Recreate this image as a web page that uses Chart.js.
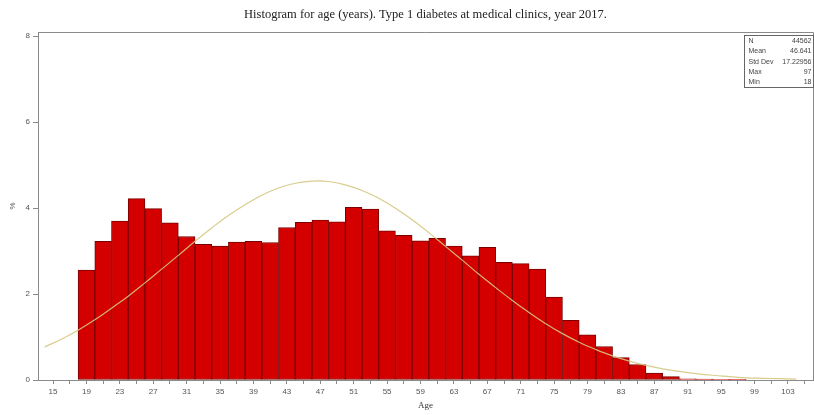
<!DOCTYPE html>
<html>
<head>
<meta charset="utf-8">
<script src="https://cdn.jsdelivr.net/npm/chart.js@4.4.1/dist/chart.umd.min.js"></script>
<style>
  html, body { margin: 0; padding: 0; background: #fff; }
  #wrap { width: 814px; height: 415px; position: relative; }
</style>
</head>
<body>
<div id="wrap"><canvas id="ageHist"></canvas></div>
<script>
// Histogram bins (2-year wide, centre ages) and percent of patients
const binCenters = [19, 21, 23, 25, 27, 29, 31, 33, 35, 37, 39, 41, 43, 45, 47, 49, 51, 53, 55, 57,
                    59, 61, 63, 65, 67, 69, 71, 73, 75, 77, 79, 81, 83, 85, 87, 89, 91, 93, 95, 97];
const pctValues = [2.56, 3.23, 3.70, 4.22, 3.99, 3.66, 3.34, 3.16, 3.12, 3.21,
                   3.23, 3.20, 3.55, 3.67, 3.72, 3.68, 4.02, 3.98, 3.47, 3.37,
                   3.24, 3.30, 3.12, 2.89, 3.09, 2.74, 2.71, 2.58, 1.93, 1.39,
                   1.05, 0.78, 0.52, 0.36, 0.16, 0.08, 0.03, 0.02, 0.01, 0.005];

// Fitted normal curve
const curveAges = [14, 16, 18, 20, 22, 24, 26, 28, 30, 32, 34, 36, 38, 40, 42, 44, 46, 48, 50, 52, 54, 56, 58,
                   60, 62, 64, 66, 68, 70, 72, 74, 76, 78, 80, 82, 84, 86, 88, 90, 92, 94, 96, 98, 100, 102, 104];
const curveValues = [0.77, 0.95, 1.16, 1.40, 1.67, 1.95, 2.26, 2.58, 2.90, 3.23, 3.54, 3.83, 4.08, 4.30, 4.47, 4.58,
                     4.63, 4.62, 4.54, 4.41, 4.23, 4.00, 3.73, 3.43, 3.11, 2.79, 2.46, 2.15, 1.85, 1.57, 1.31, 1.08,
                     0.88, 0.71, 0.56, 0.44, 0.34, 0.26, 0.20, 0.15, 0.11, 0.08, 0.05, 0.04, 0.03, 0.02];

// Axis ticks
const xTickLabels = [15, 19, 23, 27, 31, 35, 39, 43, 47, 51, 55, 59, 63, 67, 71, 75, 79, 83, 87, 91, 95, 99, 103];
const yTickLabels = [0, 2, 4, 6, 8];

// Summary statistics box
const statLabels = ['N', 'Mean', 'Std Dev', 'Max', 'Min'];
const statValues = ['44562', '46.641', '17.22956', '97', '18'];

const axisGrey = '#8a8a8a';
const tickFont = { family: "'Liberation Sans', Arial, sans-serif", size: 8 };
const serif = "'Liberation Serif', 'Times New Roman', serif";

// top/right frame line plus the stats inset
const framePlugin = {
    id: 'frameAndStats',
    afterDraw(chart) {
        const { ctx, chartArea } = chart;
        ctx.save();
        ctx.strokeStyle = axisGrey;
        ctx.lineWidth = 1;
        ctx.beginPath();
        ctx.moveTo(chartArea.left, chartArea.top + 0.5);
        ctx.lineTo(chartArea.right + 0.5, chartArea.top + 0.5);
        ctx.lineTo(chartArea.right + 0.5, chartArea.bottom);
        ctx.stroke();

        const boxW = 69, boxH = 52;
        const bx = chartArea.right - boxW + 0.5;
        const by = chartArea.top + 3.5;
        ctx.fillStyle = '#fff';
        ctx.fillRect(bx, by, boxW, boxH);
        ctx.strokeStyle = '#666';
        ctx.strokeRect(bx, by, boxW, boxH);

        ctx.font = "7px 'Liberation Sans', Arial, sans-serif";
        ctx.fillStyle = '#444';
        ctx.textBaseline = 'middle';
        statLabels.forEach((lab, i) => {
            const ty = by + 5.5 + i * 10.3;
            ctx.textAlign = 'left';
            ctx.fillText(lab, bx + 4, ty);
            ctx.textAlign = 'right';
            ctx.fillText(statValues[i], bx + boxW - 2, ty);
        });
        ctx.restore();
    }
};

new Chart(document.getElementById('ageHist'), {
    data: {
        datasets: [
            {
                type: 'line',
                label: 'Normal',
                data: curveAges.map((a, i) => ({ x: a, y: curveValues[i] })),
                borderColor: 'rgba(212, 198, 128, 0.9)',
                borderWidth: 1.2,
                pointRadius: 0,
                tension: 0.4,
                order: 0
            },
            {
                type: 'bar',
                label: 'Age',
                data: binCenters.map((a, i) => ({ x: a, y: pctValues[i] })),
                backgroundColor: '#d40000',
                borderColor: '#7a0000',
                borderWidth: 1,
                borderSkipped: false,
                barPercentage: 1.0,
                categoryPercentage: 1.0,
                grouped: false,
                order: 1
            }
        ]
    },
    options: {
        responsive: true,
        maintainAspectRatio: false,
        animation: false,
        layout: { padding: { left: 0, right: 1, top: 0, bottom: 0 } },
        plugins: {
            legend: { display: false },
            tooltip: { enabled: false },
            title: {
                display: true,
                fullSize: false,
                text: 'Histogram for age (years). Type 1 diabetes at medical clinics, year 2017.',
                font: { family: serif, size: 12.5, weight: 'normal' },
                color: '#222',
                padding: { top: 7, bottom: 10 }
            }
        },
        scales: {
            x: {
                type: 'linear',
                offset: false,
                min: 13.2,
                max: 106,
                afterBuildTicks: function(scale) {
                    const ticks = [];
                    xTickLabels.forEach(v => { ticks.push({ value: v }); ticks.push({ value: v + 2 }); });
                    scale.ticks = ticks;
                },
                afterFit: function(scale) { scale.height = 35; },
                ticks: {
                    autoSkip: false,
                    maxRotation: 0,
                    padding: 3,
                    color: '#555',
                    font: tickFont,
                    callback: function(value) {
                        return xTickLabels.includes(value) ? String(value) : '';
                    }
                },
                grid: { offset: false, drawOnChartArea: false, tickLength: 4, color: axisGrey },
                border: { color: axisGrey },
                title: {
                    display: true,
                    text: 'Age',
                    color: '#333',
                    font: { family: serif, size: 9 },
                    padding: { top: 0, bottom: 4 }
                }
            },
            y: {
                min: 0,
                max: 8.1,
                afterBuildTicks: function(scale) {
                    scale.ticks = yTickLabels.map(v => ({ value: v }));
                },
                afterFit: function(scale) { scale.width = 38; },
                ticks: {
                    padding: 3,
                    color: '#555',
                    font: tickFont
                },
                grid: { drawOnChartArea: false, tickLength: 5, color: axisGrey },
                border: { color: axisGrey },
                title: {
                    display: true,
                    text: '%',
                    color: '#555',
                    font: tickFont,
                    padding: { top: 8, bottom: 0 }
                }
            }
        }
    },
    plugins: [framePlugin]
});
</script>
</body>
</html>
